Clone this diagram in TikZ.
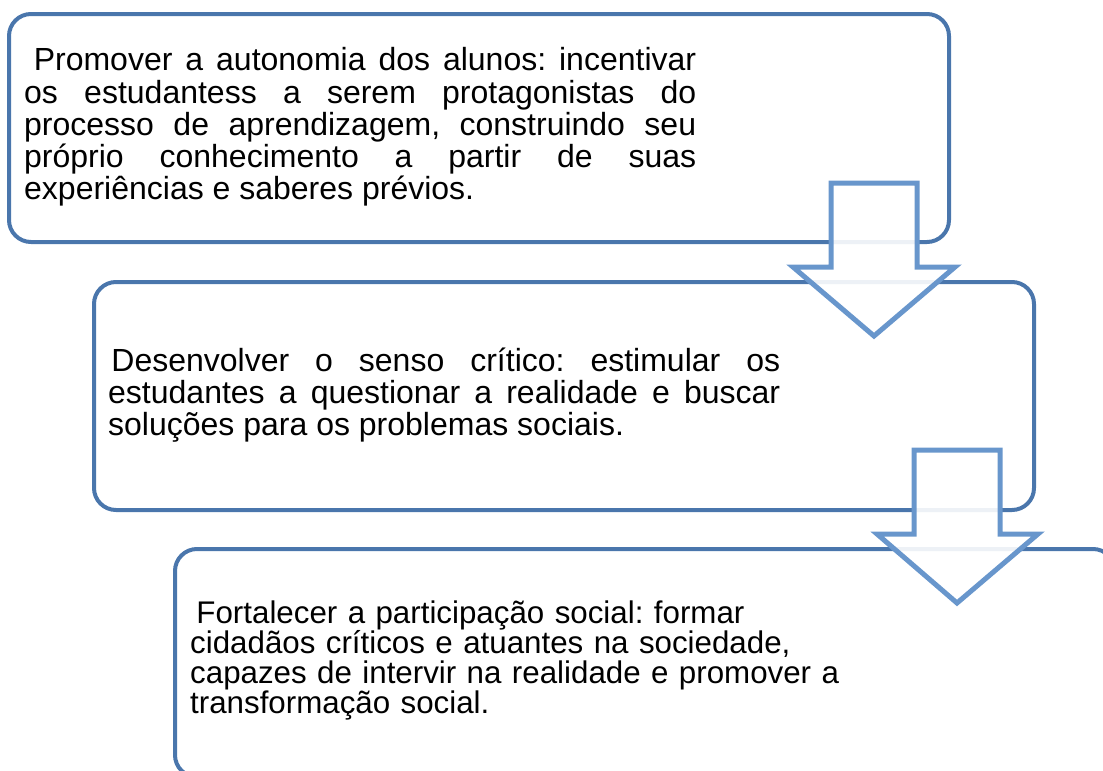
\documentclass[tikz,border=0pt]{standalone}
\usepackage{fontspec}
\setmainfont{Liberation Sans}
\usepackage{xcolor}
\usepackage{tikz}
\definecolor{bordaazul}{RGB}{74,118,172}
\definecolor{setaazul}{RGB}{104,150,204}
\tolerance=10000
\hbadness=10000
\frenchspacing
\tikzset{
  % caixa arredondada
  caixa/.style={
    draw=bordaazul,
    line width=4pt,
    rounded corners=22pt,
    minimum width=940pt,
    minimum height=228pt,
    anchor=north west,
    inner sep=0pt
  },
  % texto das caixas
  texto/.style={
    anchor=base west,
    inner sep=0pt,
    text width=672pt,
    font=\fontsize{32}{#1}\selectfont
  },
  % seta de bloco
  seta/.style={draw=setaazul, line width=5pt, fill=white, fill opacity=0.9},
}

\begin{document}
\begin{tikzpicture}[x=1pt,y=-1pt]
    \useasboundingbox (0,0) rectangle (1103,771);
    \clip (0,0) rectangle (1103,771);

    % Caixas
    \node[caixa] (caixa1) at (7,12) {};
    \node[caixa] (caixa2) at (92,280) {};
    \node[caixa] (caixa3) at (173,547) {};

    % Textos
    \node[texto=32.3, align=justify] (autonomia) at (24,70.7)
        {\hspace*{0.3em}Promover a autonomia dos alunos: incentivar\linebreak
         os estudantess a serem protagonistas do\linebreak
         processo de aprendizagem, construindo seu\linebreak
         próprio conhecimento a partir de suas\linebreak
         experiências e saberes prévios.};
    \node[texto=31.7, align=justify] (senso) at (108,371.7)
        {\hspace*{0.1em}Desenvolver o senso crítico: estimular os\linebreak
         estudantes a questionar a realidade e buscar\linebreak
         soluções para os problemas sociais.};
    \node[texto=30, align=left, font=\fontsize{31.3}{30}\selectfont] (participacao) at (190,623.3)
        {\hspace*{0.2em}Fortalecer a participação social: formar\\
         cidadãos críticos e atuantes na sociedade,\\
         capazes de intervir na realidade e promover a\\
         transformação social.};

    % Setas
    \draw[seta] (831,183) -- (917,183) -- (917,267) -- (955,267) -- (874,336)
        -- (793,267) -- (831,267) -- cycle;
    \draw[seta] (914,450) -- (1000,450) -- (1000,534) -- (1038,534) -- (957,603)
        -- (877,534) -- (914,534) -- cycle;
\end{tikzpicture}
\end{document}
